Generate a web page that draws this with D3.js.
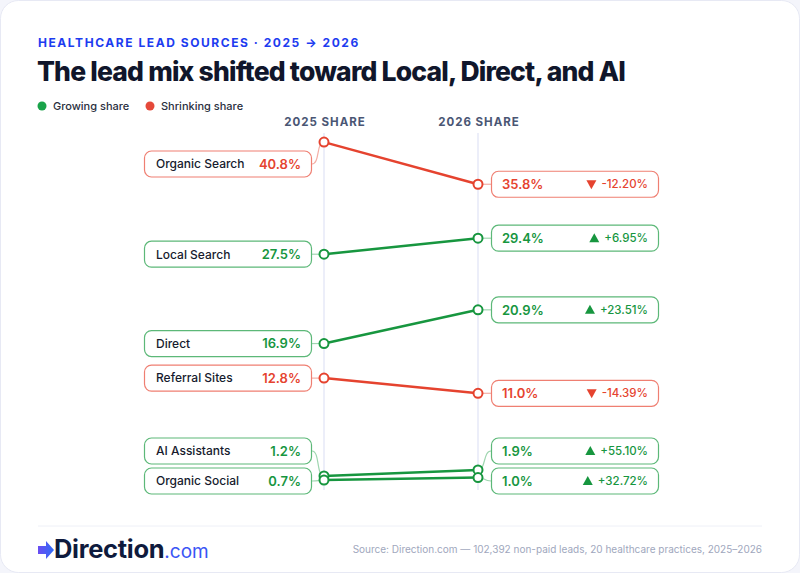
<!DOCTYPE html>
<html>
<head>
<meta charset="utf-8">
<script src="https://cdn.jsdelivr.net/npm/d3@7"></script>
<style>
  html, body { margin: 0; padding: 0; background: #f4f5fb; }
  body { width: 800px; height: 573px; overflow: hidden; font-family: Inter, "Noto Sans", sans-serif; }
</style>
</head>
<body>
<svg class="chart"></svg>
<script>
// slope chart: lead source share, 2025 vs 2026

let width = 800, height = 573;

let sources = ["Organic Search", "Local Search", "Direct", "Referral Sites", "AI Assistants", "Organic Social"];
let share2025 = [40.8, 27.5, 16.9, 12.8, 1.2, 0.7];
let share2026 = [35.8, 29.4, 20.9, 11.0, 1.9, 1.0];
let changePct = [-12.20, 6.95, 23.51, -14.39, 55.10, 32.72];
let years = ["2025", "2026"];
let headers = ["2025 SHARE", "2026 SHARE"];
let legendItems = ["Growing share", "Shrinking share"];

let green = "#17963f", red = "#e5432f";
let dark = "#161b2e";

let dataset = sources.map((s, i) => ({
  name: s, v0: share2025[i], v1: share2026[i], delta: changePct[i],
  up: share2026[i] >= share2025[i]
}));

let svg = d3.select(".chart").attr("width", width).attr("height", height);

// card
svg.append("rect")
  .attr("x", 0.5).attr("y", 0.5)
  .attr("width", width - 1).attr("height", height - 1)
  .attr("rx", 18)
  .attr("fill", "#fff")
  .attr("stroke", "#e7e9f4");

// heading
svg.append("text")
  .attr("x", 38).attr("y", 47)
  .style("font-size", "12px").style("font-weight", 700)
  .style("letter-spacing", "1.55px")
  .style("fill", "#1d3cf0")
  .text("HEALTHCARE LEAD SOURCES  ·  2025 → 2026");

let title = svg.append("text")
  .attr("x", 37).attr("y", 81)
  .style("font-size", "26.5px").style("font-weight", 800)
  .style("letter-spacing", "-0.8px")
  .style("fill", "#10162b")
  .text("The lead mix shifted toward Local, Direct, and AI");
// squeeze/stretch title to the measured width of the reference
title.attr("textLength", 588).attr("lengthAdjust", "spacing");

// legend
let legend = svg.append("g").attr("transform", "translate(42,106)");
let lx = 0;
legendItems.forEach((t, i) => {
  let g = legend.append("g").attr("transform", "translate(" + lx + ",0)");
  g.append("circle").attr("r", 4.5).attr("fill", i == 0 ? "#1aa34a" : "#e5493a");
  g.append("text").attr("x", 11).attr("dy", "0.35em")
    .style("font-size", "11px").style("font-weight", 500).style("fill", "#2a2f40")
    .text(t);
  lx += 108;
});

// scales
let x = d3.scalePoint().domain(years).range([324, 478]);
let y = d3.scaleLinear().domain([0, 42]).range([486, 132]);

// column headers + guide lines
years.forEach((yr, i) => {
  svg.append("line")
    .attr("x1", x(yr)).attr("x2", x(yr))
    .attr("y1", 133).attr("y2", 490)
    .attr("stroke", "#e6e8f7").attr("stroke-width", 1.5);
  svg.append("text")
    .attr("x", x(yr) + 1).attr("y", 126)
    .attr("text-anchor", "middle")
    .style("font-size", "11.5px").style("font-weight", 700)
    .style("letter-spacing", "1px")
    .style("fill", "#4a5674")
    .text(headers[i]);
});

// spread labels so boxes don't overlap
function layout(targets, minY, maxY, gap) {
  let idx = targets.map((t, i) => i).sort((a, b) => targets[a] - targets[b]);
  let pos = targets.slice();
  let prev = -Infinity;
  idx.forEach(i => {
    pos[i] = Math.max(pos[i], minY, prev + gap);
    prev = pos[i];
  });
  let next = Infinity;
  idx.slice().reverse().forEach(i => {
    pos[i] = Math.min(pos[i], maxY, next - gap);
    next = pos[i];
  });
  return pos;
}

let leftY = layout(dataset.map(d => y(d.v0)), 164, 481, 30);
let rightY = layout(dataset.map(d => y(d.v1)), 164, 481, 30);

let boxH = 26;
let col = d => d.up ? green : red;
let border = d => d.up ? "#5cb878" : "#ef7f72";
let light = d => d.up ? "#9fd6b0" : "#f4aea5";

// connectors
dataset.forEach((d, i) => {
  let by = leftY[i], dy = y(d.v0), x0 = 312, x1 = x("2025");
  svg.append("path")
    .attr("d", `M${x0},${by} C${x0 + 8},${by} ${x1 - 8},${dy} ${x1},${dy}`)
    .attr("fill", "none").attr("stroke", light(d)).attr("stroke-width", 1.2);
  let ry = rightY[i], dy1 = y(d.v1), x2 = x("2026"), x3 = 491;
  svg.append("path")
    .attr("d", `M${x2},${dy1} C${x2 + 8},${dy1} ${x3 - 8},${ry} ${x3},${ry}`)
    .attr("fill", "none").attr("stroke", light(d)).attr("stroke-width", 1.2);
});

// slope lines
svg.selectAll(".slope")
  .data(dataset)
  .enter().append("line")
  .attr("class", "slope")
  .attr("x1", x("2025")).attr("y1", d => y(d.v0))
  .attr("x2", x("2026")).attr("y2", d => y(d.v1))
  .attr("stroke", col).attr("stroke-width", 2.5);

// dots
dataset.forEach(d => {
  [[x("2025"), y(d.v0)], [x("2026"), y(d.v1)]].forEach(p => {
    svg.append("circle")
      .attr("cx", p[0]).attr("cy", p[1]).attr("r", 4.5)
      .attr("fill", "#fff").attr("stroke", col(d)).attr("stroke-width", 2);
  });
});

// left boxes
dataset.forEach((d, i) => {
  let g = svg.append("g").attr("transform", "translate(144," + leftY[i] + ")");
  g.append("rect")
    .attr("x", 0.5).attr("y", -boxH / 2)
    .attr("width", 167).attr("height", boxH).attr("rx", 7)
    .attr("fill", "#fff").attr("stroke", border(d)).attr("stroke-width", 1.2);
  g.append("text").attr("x", 12).attr("dy", "0.36em")
    .style("font-size", "12px").style("font-weight", 500).style("fill", dark)
    .text(d.name);
  g.append("text").attr("x", 157).attr("dy", "0.36em")
    .attr("text-anchor", "end")
    .style("font-size", "13px").style("font-weight", 600).style("fill", col(d))
    .text(d.v0.toFixed(1) + "%");
});

// right boxes
dataset.forEach((d, i) => {
  let g = svg.append("g").attr("transform", "translate(491," + rightY[i] + ")");
  g.append("rect")
    .attr("x", 0.5).attr("y", -boxH / 2)
    .attr("width", 167).attr("height", boxH).attr("rx", 7)
    .attr("fill", "#fff").attr("stroke", border(d)).attr("stroke-width", 1.2);
  g.append("text").attr("x", 11).attr("dy", "0.36em")
    .style("font-size", "13px").style("font-weight", 600).style("fill", col(d))
    .text(d.v1.toFixed(1) + "%");
  let dt = g.append("text").attr("x", 157).attr("dy", "0.36em")
    .attr("text-anchor", "end")
    .style("font-size", "11.5px").style("font-weight", 500).style("fill", col(d))
    .text((d.delta >= 0 ? "+" : "-") + Math.abs(d.delta).toFixed(2) + "%");
  let tw = dt.node().getComputedTextLength();
  let tx = 157 - tw - 10;
  let tri = d.delta >= 0
    ? `M${tx - 5},4 L${tx + 5},4 L${tx},-5 Z`
    : `M${tx - 5},-4 L${tx + 5},-4 L${tx},5 Z`;
  g.append("path").attr("d", tri).attr("fill", col(d));
});

// footer
svg.append("line")
  .attr("x1", 38).attr("x2", 762).attr("y1", 526).attr("y2", 526)
  .attr("stroke", "#eef0f7");

let defs = svg.append("defs");
let grad = defs.append("linearGradient").attr("id", "arrowGrad");
grad.append("stop").attr("offset", "0%").attr("stop-color", "#6a4cf2");
grad.append("stop").attr("offset", "100%").attr("stop-color", "#2f6cf6");

svg.append("path")
  .attr("d", "M38,546 L46,546 L46,541 L54,550 L46,559 L46,554 L38,554 Z")
  .attr("fill", "url(#arrowGrad)");

let logo = svg.append("text").attr("x", 54).attr("y", 558);
logo.append("tspan")
  .style("font-size", "25.5px").style("font-weight", 700).style("letter-spacing", "-0.3px")
  .style("fill", "#0f1b3d").text("Direction");
logo.append("tspan")
  .style("font-size", "19px").style("font-weight", 400)
  .style("fill", "#3a55f5").text(".com");

svg.append("text")
  .attr("x", 762).attr("y", 553)
  .attr("text-anchor", "end")
  .style("font-size", "10px").style("fill", "#a0a7bd")
  .text("Source: Direction.com — 102,392 non-paid leads, 20 healthcare practices, 2025–2026");
</script>
</body>
</html>
